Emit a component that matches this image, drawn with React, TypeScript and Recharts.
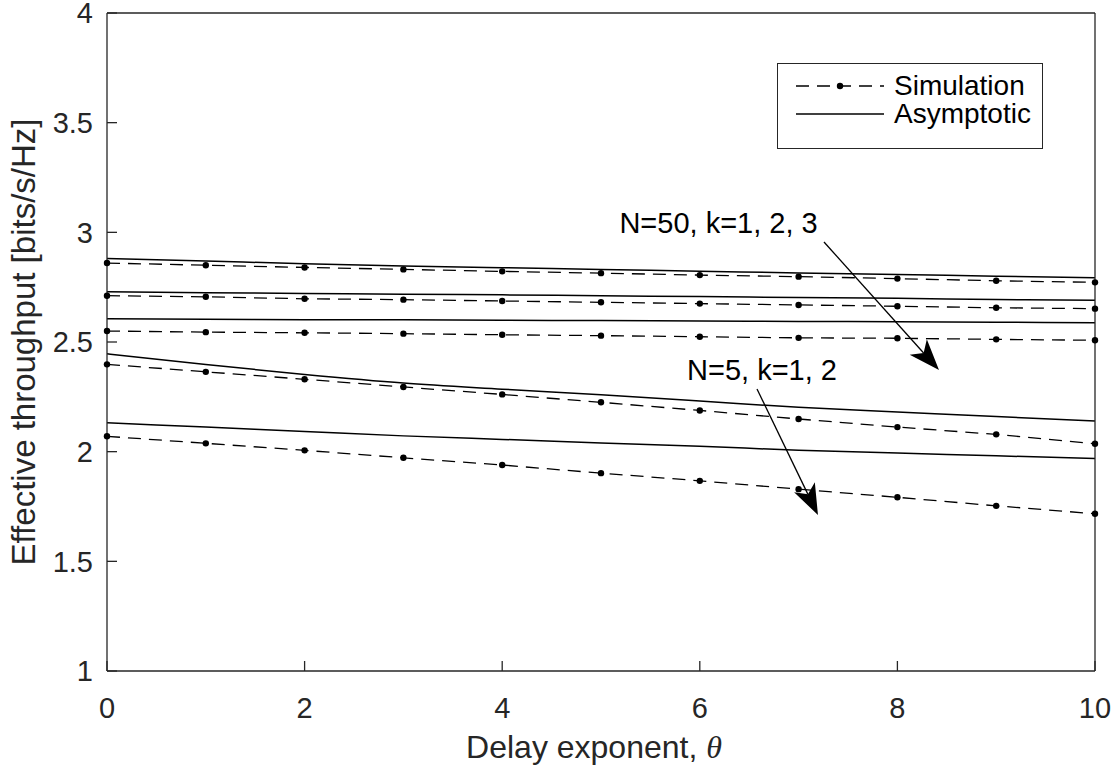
import { LineChart, Line, XAxis, YAxis, Legend, ReferenceLine, ReferenceDot } from 'recharts';

// delay exponent values (x axis)
const theta = [0, 1, 2, 3, 4, 5, 6, 7, 8, 9, 10];

// simulation curves
const simN50k1 = [2.860, 2.850, 2.840, 2.831, 2.822, 2.814, 2.805, 2.798, 2.789, 2.779, 2.772];
const simN50k2 = [2.711, 2.706, 2.697, 2.693, 2.687, 2.681, 2.675, 2.669, 2.663, 2.656, 2.652];
const simN50k3 = [2.550, 2.545, 2.542, 2.538, 2.533, 2.529, 2.524, 2.519, 2.517, 2.512, 2.508];
const simN5k1 = [2.398, 2.364, 2.330, 2.295, 2.261, 2.225, 2.188, 2.149, 2.112, 2.079, 2.036];
const simN5k2 = [2.070, 2.038, 2.006, 1.972, 1.939, 1.902, 1.867, 1.829, 1.792, 1.753, 1.717];

// asymptotic curves
const asyN50k1 = [2.881, 2.869, 2.857, 2.847, 2.839, 2.831, 2.823, 2.815, 2.808, 2.800, 2.793];
const asyN50k2 = [2.729, 2.725, 2.721, 2.718, 2.715, 2.711, 2.707, 2.703, 2.699, 2.694, 2.690];
const asyN50k3 = [2.606, 2.604, 2.602, 2.601, 2.599, 2.598, 2.596, 2.594, 2.592, 2.590, 2.588];
const asyN5k1 = [2.446, 2.397, 2.352, 2.313, 2.285, 2.259, 2.231, 2.202, 2.181, 2.160, 2.140];
const asyN5k2 = [2.132, 2.112, 2.092, 2.072, 2.056, 2.040, 2.025, 2.006, 1.994, 1.981, 1.969];

const xTicks = [0, 2, 4, 6, 8, 10];
const yTicks = [1, 1.5, 2, 2.5, 3, 3.5, 4];

const simSeries = { s50k1: simN50k1, s50k2: simN50k2, s50k3: simN50k3, s5k1: simN5k1, s5k2: simN5k2 };
const asySeries = { a50k1: asyN50k1, a50k2: asyN50k2, a50k3: asyN50k3, a5k1: asyN5k1, a5k2: asyN5k2 };

const data = theta.map((t, i) => {
  const row: any = { theta: t };
  Object.entries(simSeries).forEach(([k, v]) => (row[k] = v[i]));
  Object.entries(asySeries).forEach(([k, v]) => (row[k] = v[i]));
  return row;
});

const FONT = '"Liberation Sans", Arial, Helvetica, sans-serif';
const AXIS = '#262626';
const DASH = '13 8';
const TICK_FS = 29;

function Arrow(props: any) {
  const { x1, y1, x2, y2 } = props;
  const dx = x2 - x1, dy = y2 - y1;
  const len = Math.hypot(dx, dy);
  const ux = dx / len, uy = dy / len;
  const nx = -uy, ny = ux;
  const L = 31, W = 11.5, N = 23;
  const bx = x2 - ux * L, by = y2 - uy * L;
  const kx = x2 - ux * N, ky = y2 - uy * N;
  const pts = `${x2},${y2} ${bx + nx * W},${by + ny * W} ${kx},${ky} ${bx - nx * W},${by - ny * W}`;
  return (
    <g>
      <line x1={x1} y1={y1} x2={kx} y2={ky} stroke="#000" strokeWidth={1.3} />
      <polygon points={pts} fill="#000" />
    </g>
  );
}

const noteText = (txt: string) => (p: any) => (
  <text x={p.cx} y={p.cy} textAnchor="middle" fontFamily={FONT} fontSize={29} fill="#000">{txt}</text>
);

function XTick(p: any) {
  return (
    <text x={p.x} y={p.y} dy="0.71em" textAnchor="middle" fontFamily={FONT} fontSize={TICK_FS} fill={AXIS}>
      {p.payload.value}
    </text>
  );
}

function YTick(p: any) {
  return (
    <text x={p.x} y={p.y} dy="0.355em" textAnchor="end" fontFamily={FONT} fontSize={TICK_FS} fill={AXIS}>
      {p.payload.value}
    </text>
  );
}

function XLabel(props: any) {
  const vb = props.viewBox;
  return (
    <text x={vb.x + vb.width / 2 - 7} y={vb.y + 87} textAnchor="middle" fontFamily={FONT} fontSize={32} fill={AXIS}>
      Delay exponent, <tspan fontFamily='"Liberation Serif", "DejaVu Serif", serif' fontStyle="italic">θ</tspan>
    </text>
  );
}

function YLabel(props: any) {
  const vb = props.viewBox;
  const x = vb.x - 12;
  const y = vb.y + vb.height / 2;
  return (
    <text x={x} y={y} transform={`rotate(-90, ${x}, ${y})`} textAnchor="middle" fontFamily={FONT} fontSize={33} fill={AXIS}>
      Effective throughput [bits/s/Hz]
    </text>
  );
}

function LegendBox() {
  const row = (top: number) => ({ position: 'absolute' as const, left: 0, top, height: 28, width: 264 });
  return (
    <div style={{ width: 264, height: 84, border: `1px solid ${AXIS}`, background: '#fff', position: 'relative', fontFamily: FONT, fontSize: 28, color: '#000' }}>
      <div style={row(8)}>
        <svg width={110} height={28} style={{ position: 'absolute', left: 0, top: 0 }}>
          <line x1={18} x2={106} y1={14} y2={14} stroke="#000" strokeWidth={1.5} strokeDasharray={DASH} />
          <circle cx={62} cy={14} r={3.2} fill="#000" />
        </svg>
        <span style={{ position: 'absolute', left: 116, top: 0, lineHeight: '28px' }}>Simulation</span>
      </div>
      <div style={row(36)}>
        <svg width={110} height={28} style={{ position: 'absolute', left: 0, top: 0 }}>
          <line x1={18} x2={106} y1={14} y2={14} stroke="#000" strokeWidth={1.5} />
        </svg>
        <span style={{ position: 'absolute', left: 116, top: 0, lineHeight: '28px' }}>Asymptotic</span>
      </div>
    </div>
  );
}

export default function App() {
  return (
    <div style={{ position: 'absolute', left: 0, top: 0, width: 1118, height: 769, background: '#fff' }}>
      <LineChart width={1118} height={769} data={data} margin={{ top: 12, right: 22, left: 47, bottom: 38 }}>
        <XAxis
          dataKey="theta"
          type="number"
          domain={[0, 10]}
          ticks={xTicks}
          height={60}
          tickSize={-10}
          tickMargin={36}
          tick={(p: any) => <XTick {...p} />}
          stroke={AXIS}
          strokeWidth={1.3}
          label={{ content: (p: any) => <XLabel {...p} /> }}
        />
        <XAxis
          xAxisId="top"
          orientation="top"
          type="number"
          domain={[0, 10]}
          allowDataOverflow
          ticks={xTicks}
          height={1}
          tickSize={-10}
          tick={false}
          stroke={AXIS}
          strokeWidth={1.3}
        />
        <YAxis
          type="number"
          domain={[1, 4]}
          ticks={yTicks}
          width={60}
          tickSize={-10}
          tickMargin={24}
          tick={(p: any) => <YTick {...p} />}
          stroke={AXIS}
          strokeWidth={1.3}
          label={{ content: (p: any) => <YLabel {...p} /> }}
        />
        <YAxis
          yAxisId="right"
          orientation="right"
          type="number"
          domain={[1, 4]}
          allowDataOverflow
          ticks={yTicks}
          width={1}
          tickSize={-10}
          tick={false}
          stroke={AXIS}
          strokeWidth={1.3}
        />
        {Object.keys(asySeries).map((k) => (
          <Line key={k} dataKey={k} type="monotone" stroke="#000" strokeWidth={1.5} dot={false} isAnimationActive={false} />
        ))}
        {Object.keys(simSeries).map((k) => (
          <Line
            key={k}
            dataKey={k}
            type="linear"
            stroke="#000"
            strokeWidth={1.3}
            strokeDasharray={DASH}
            dot={{ r: 3.2, fill: '#000', stroke: 'none', strokeWidth: 0, strokeDasharray: '' }}
            isAnimationActive={false}
          />
        ))}
        <ReferenceLine segment={[{ x: 7.257, y: 2.956 }, { x: 8.421, y: 2.372 }]} shape={(p: any) => <Arrow {...p} />} />
        <ReferenceLine segment={[{ x: 6.579, y: 2.286 }, { x: 7.196, y: 1.711 }]} shape={(p: any) => <Arrow {...p} />} />
        <ReferenceDot x={6.19} y={2.997} r={1} shape={noteText('N=50, k=1, 2, 3')} />
        <ReferenceDot x={6.63} y={2.327} r={1} shape={noteText('N=5, k=1, 2')} />
        <Legend
          layout="horizontal"
          verticalAlign="middle"
          align="center"
          content={() => <LegendBox />}
          wrapperStyle={{ left: 777, top: 63, width: 266, height: 86 }}
        />
      </LineChart>
    </div>
  );
}
